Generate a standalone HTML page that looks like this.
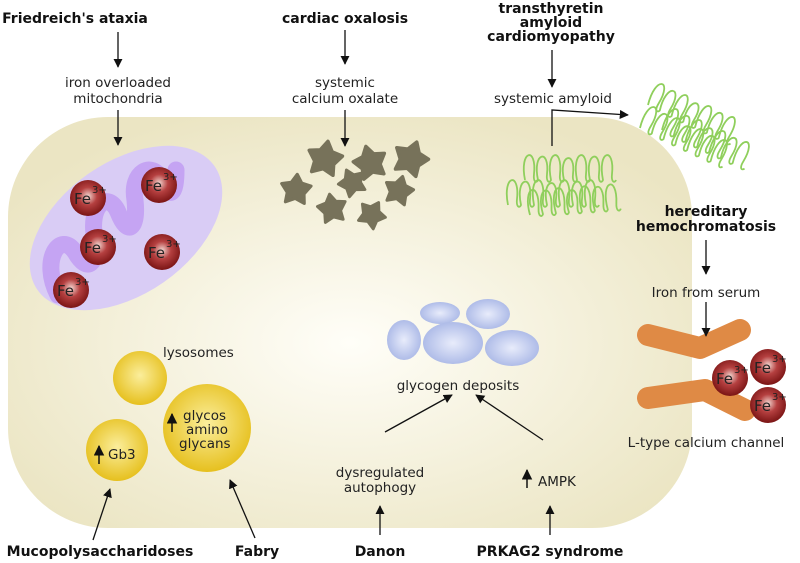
<!DOCTYPE html>
<html><head><style>
body{margin:0;background:#fff}
svg{display:block}
text{font-family:"DejaVu Sans","Liberation Sans",sans-serif;fill:#222}
.b{font-weight:bold;font-size:14px;fill:#111}
.r{font-size:13.5px}
</style></head><body>
<svg width="800" height="563" viewBox="0 0 800 563">
<defs>
<radialGradient id="cell" cx="0.5" cy="0.55" r="0.6"><stop offset="0" stop-color="#fffef8"/><stop offset="1" stop-color="#ebe5c3"/></radialGradient>
<radialGradient id="fe" cx="0.5" cy="0.45" r="0.55"><stop offset="0" stop-color="#f3d6d0"/><stop offset="0.45" stop-color="#b54040"/><stop offset="1" stop-color="#7a1414"/></radialGradient>
<radialGradient id="ly" cx="0.5" cy="0.45" r="0.55"><stop offset="0" stop-color="#fbee9c"/><stop offset="1" stop-color="#e6c01e"/></radialGradient>
<radialGradient id="gl" cx="0.5" cy="0.5" r="0.55"><stop offset="0" stop-color="#e8ecfb"/><stop offset="1" stop-color="#a9b7e6"/></radialGradient>
<marker id="a" viewBox="0 0 10 10" refX="9" refY="5" markerWidth="7" markerHeight="7" orient="auto"><path d="M0,0 L10,5 L0,10z" fill="#111"/></marker>
<path id="loops" d="M0,0 c-6,-30 12,-34 9,-6 c-1,9 3,9 4,6 c-6,-28 12,-32 9,-6 c-1,9 3,9 4,6 c-6,-30 12,-34 9,-6 c-1,9 3,9 4,6 c-6,-26 12,-30 9,-6 c-1,9 3,9 4,6 c-6,-30 12,-34 9,-6 c-1,9 3,9 4,6 c-6,-28 12,-32 9,-6 c-1,9 3,9 4,6 c-6,-30 12,-34 9,-6 c-1,9 3,9 4,6" fill="none" stroke="#8fcf5c" stroke-width="1.8"/>
<path id="star" d="M0,-14 L5,-6 L14,-4 L8,4 L9,13 L0,9 L-9,13 L-8,4 L-14,-4 L-5,-6z" fill="#77725a" stroke="#77725a" stroke-width="3" stroke-linejoin="round"/>
</defs>
<rect x="8" y="117" width="684" height="411" rx="100" fill="url(#cell)"/>

<!-- mitochondrion -->
<ellipse cx="126" cy="228" rx="108" ry="66" transform="rotate(-35 126 228)" fill="#d9ccf5"/>
<path d="M58,295 C40,260 60,230 75,252 C88,275 98,262 95,240 C88,205 108,190 118,212 C128,238 138,228 135,200 C130,172 152,160 162,180 C170,200 176,195 176,170" fill="none" stroke="#c5a4f3" stroke-width="17" stroke-linecap="round"/>
<g>
<g><circle cx="88" cy="198" r="18" fill="url(#fe)"/><text x="74" y="204" font-size="15">Fe</text><text x="92" y="193" font-size="10">3+</text></g>
<g><circle cx="159" cy="185" r="18" fill="url(#fe)"/><text x="145" y="191" font-size="15">Fe</text><text x="163" y="180" font-size="10">3+</text></g>
<g><circle cx="98" cy="247" r="18" fill="url(#fe)"/><text x="84" y="253" font-size="15">Fe</text><text x="102" y="242" font-size="10">3+</text></g>
<g><circle cx="162" cy="252" r="18" fill="url(#fe)"/><text x="148" y="258" font-size="15">Fe</text><text x="166" y="247" font-size="10">3+</text></g>
<g><circle cx="71" cy="290" r="18" fill="url(#fe)"/><text x="57" y="296" font-size="15">Fe</text><text x="75" y="285" font-size="10">3+</text></g>
</g>

<!-- stars -->
<use href="#star" transform="translate(325,158) rotate(10) scale(1.2)"/>
<use href="#star" transform="translate(370,162) rotate(-15) scale(1.15)"/>
<use href="#star" transform="translate(411,158) rotate(20) scale(1.2)"/>
<use href="#star" transform="translate(296,189) rotate(5) scale(1.05)"/>
<use href="#star" transform="translate(352,182) rotate(-25) scale(0.95)"/>
<use href="#star" transform="translate(399,190) rotate(15) scale(1.0)"/>
<use href="#star" transform="translate(332,208) rotate(-10) scale(1.0)"/>
<use href="#star" transform="translate(372,214) rotate(30) scale(0.95)"/>

<!-- amyloid -->
<use href="#loops" transform="translate(525,180)"/>
<use href="#loops" transform="translate(508,205)"/>
<use href="#loops" transform="translate(530,215) rotate(-4)"/>
<use href="#loops" transform="translate(648,105) rotate(25)"/>
<use href="#loops" transform="translate(640,128) rotate(25)"/>
<use href="#loops" transform="translate(662,130) rotate(25)"/>

<!-- lysosomes -->
<circle cx="140" cy="378" r="27" fill="url(#ly)"/>
<circle cx="117" cy="450" r="31" fill="url(#ly)"/>
<circle cx="207" cy="428" r="44" fill="url(#ly)"/>
<text class="r" x="163" y="357">lysosomes</text>
<text class="r" x="108" y="459" font-size="15">Gb3</text>
<line x1="99" y1="464" x2="99" y2="446" stroke="#111" stroke-width="1.5" marker-end="url(#a)"/>
<text class="r" x="183" y="420" font-size="15">glycos</text>
<text class="r" x="186" y="434" font-size="15">amino</text>
<text class="r" x="179" y="448" font-size="15">glycans</text>
<line x1="172" y1="432" x2="172" y2="414" stroke="#111" stroke-width="1.5" marker-end="url(#a)"/>

<!-- glycogen -->
<ellipse cx="440" cy="313" rx="20" ry="11" fill="url(#gl)"/>
<ellipse cx="488" cy="314" rx="22" ry="15" fill="url(#gl)"/>
<ellipse cx="404" cy="340" rx="17" ry="20" fill="url(#gl)"/>
<ellipse cx="453" cy="343" rx="30" ry="21" fill="url(#gl)"/>
<ellipse cx="512" cy="348" rx="27" ry="18" fill="url(#gl)"/>
<text class="r" x="458" y="390" text-anchor="middle">glycogen deposits</text>

<!-- channel -->
<path d="M648,335 L700,348 L740,330" fill="none" stroke="#df8a45" stroke-width="22" stroke-linecap="round" stroke-linejoin="round"/>
<path d="M648,398 L705,390 L745,410" fill="none" stroke="#df8a45" stroke-width="22" stroke-linecap="round" stroke-linejoin="round"/>
<g><circle cx="730" cy="378" r="18" fill="url(#fe)"/><text x="716" y="384" font-size="15">Fe</text><text x="734" y="373" font-size="10">3+</text></g>
<g><circle cx="768" cy="367" r="18" fill="url(#fe)"/><text x="754" y="373" font-size="15">Fe</text><text x="772" y="362" font-size="10">3+</text></g>
<g><circle cx="768" cy="405" r="18" fill="url(#fe)"/><text x="754" y="411" font-size="15">Fe</text><text x="772" y="400" font-size="10">3+</text></g>
<text class="r" x="706" y="447" text-anchor="middle">L-type calcium channel</text>

<!-- labels -->
<g text-anchor="middle">
<text class="b" x="75" y="23">Friedreich's ataxia</text>
<text class="r" x="118" y="87">iron overloaded</text>
<text class="r" x="118" y="103">mitochondria</text>
<text class="b" x="345" y="23">cardiac oxalosis</text>
<text class="r" x="345" y="87">systemic</text>
<text class="r" x="345" y="103">calcium oxalate</text>
<text class="b" x="551" y="13">transthyretin</text>
<text class="b" x="551" y="27">amyloid</text>
<text class="b" x="551" y="41">cardiomyopathy</text>
<text class="r" x="553" y="103">systemic amyloid</text>
<text class="b" x="706" y="216">hereditary</text>
<text class="b" x="706" y="231">hemochromatosis</text>
<text class="r" x="706" y="297">Iron from serum</text>
<text class="r" x="380" y="477">dysregulated</text>
<text class="r" x="380" y="492">autophogy</text>
<text class="b" x="100" y="556">Mucopolysaccharidoses</text>
<text class="b" x="257" y="556">Fabry</text>
<text class="b" x="380" y="556">Danon</text>
<text class="b" x="550" y="556">PRKAG2 syndrome</text>
</g>
<text class="r" x="538" y="486">AMPK</text>
<line x1="527" y1="488" x2="527" y2="470" stroke="#111" stroke-width="1.5" marker-end="url(#a)"/>

<g stroke="#111" stroke-width="1.3" fill="none" marker-end="url(#a)">
<line x1="118" y1="32" x2="118" y2="67"/>
<line x1="118" y1="110" x2="118" y2="145"/>
<line x1="345" y1="30" x2="345" y2="64"/>
<line x1="345" y1="110" x2="345" y2="146"/>
<line x1="552" y1="50" x2="552" y2="87"/>
<polyline points="552,146 552,110 628,115"/>
<line x1="706" y1="240" x2="706" y2="274"/>
<line x1="706" y1="302" x2="706" y2="336"/>
<line x1="385" y1="432" x2="452" y2="395"/>
<line x1="543" y1="440" x2="476" y2="395"/>
<line x1="380" y1="535" x2="380" y2="506"/>
<line x1="550" y1="535" x2="550" y2="506"/>
<line x1="93" y1="540" x2="110" y2="489"/>
<line x1="255" y1="538" x2="230" y2="480"/>
</g>
</svg>
</body></html>
